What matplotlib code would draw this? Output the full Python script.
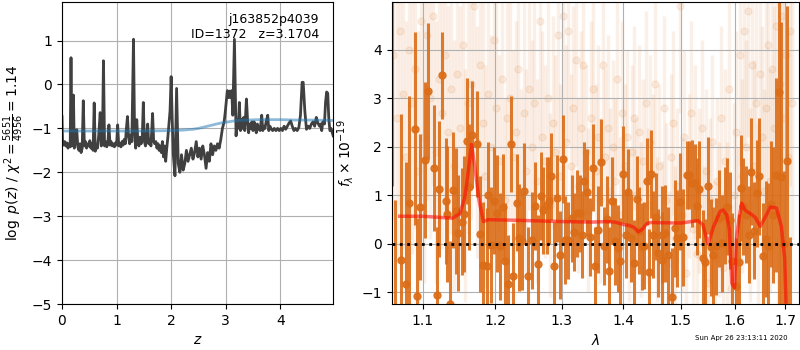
import matplotlib
matplotlib.use('Agg')
import matplotlib.pyplot as plt
from matplotlib.ticker import NullLocator, FixedLocator, FixedFormatter

# --- left panel: log p(z) ---
pz_z = [0.00, 0.01, 0.03, 0.05, 0.07, 0.09, 0.11, 0.13, 0.15, 0.165, 0.18, 0.195, 0.21, 0.225, 0.24,
        0.27, 0.29, 0.31, 0.33, 0.35, 0.37, 0.39, 0.41, 0.43, 0.45, 0.47, 0.49, 0.51, 0.53, 0.55,
        0.57, 0.59, 0.61, 0.63, 0.65, 0.67, 0.70, 0.72, 0.74, 0.76, 0.78, 0.80, 0.82, 0.84, 0.86,
        0.88, 0.90, 0.92, 0.94, 0.96, 0.98, 1.00, 1.02, 1.04, 1.06, 1.08, 1.10, 1.12, 1.14, 1.16,
        1.18, 1.20, 1.22, 1.24, 1.26, 1.28, 1.31, 1.33, 1.35, 1.37, 1.39, 1.41, 1.43, 1.45, 1.47,
        1.49, 1.51, 1.53, 1.55, 1.57, 1.59, 1.61, 1.63, 1.66, 1.68, 1.70, 1.72, 1.74, 1.76, 1.78,
        1.80, 1.82, 1.84, 1.86, 1.88, 1.90, 1.92, 1.94, 1.96, 1.98, 2.00, 2.02, 2.04, 2.07, 2.10,
        2.13, 2.16, 2.19, 2.22, 2.25, 2.28, 2.31, 2.34, 2.37, 2.40, 2.43, 2.46, 2.49, 2.52, 2.55,
        2.58, 2.61, 2.64, 2.67, 2.70, 2.73, 2.76, 2.79, 2.82, 2.85, 2.88, 2.91, 2.94, 2.97, 2.99,
        3.01, 3.03, 3.05, 3.07, 3.09, 3.11, 3.13, 3.16, 3.19, 3.21, 3.23, 3.25, 3.27, 3.29, 3.31,
        3.33, 3.35, 3.38, 3.40, 3.42, 3.44, 3.46, 3.48, 3.50, 3.52, 3.54, 3.56, 3.58, 3.60, 3.63,
        3.66, 3.68, 3.70, 3.72, 3.74, 3.77, 3.79, 3.81, 3.83, 3.86, 3.89, 3.92, 3.95, 3.98, 4.01,
        4.04, 4.07, 4.10, 4.13, 4.16, 4.19, 4.22, 4.25, 4.28, 4.31, 4.34, 4.37, 4.40, 4.42, 4.45,
        4.48, 4.51, 4.54, 4.57, 4.60, 4.63, 4.66, 4.69, 4.72, 4.74, 4.76, 4.78, 4.81, 4.83, 4.85,
        4.87, 4.89, 4.91, 4.93, 4.97]
pz_logp = [-0.73, -1.30, -1.38, -1.30, -1.40, -1.33, -1.45, -1.35, -1.42, 0.61, -1.40, -1.30, -0.24, -1.45, -1.35,
           -1.03, -1.42, -1.50, -1.35, -1.55, -1.45, -0.37, -1.40, -1.30, -1.45, -1.35, -1.40, -1.28, -1.45, -1.35,
           -1.50, -0.42, -1.52, -1.40, -1.45, -1.20, -0.64, -1.40, -1.35, 0.54, -1.40, -1.30, -1.42, -1.35, -0.92,
           -1.38, -1.30, -1.40, -1.35, -1.42, -1.33, -1.38, -0.92, -1.40, -1.35, -1.42, -1.30, -1.38, -1.25, -1.35,
           -1.00, -0.73, -1.20, -1.35, -1.15, -1.30, 1.03, -1.10, -1.45, -0.80, -1.30, -1.40, -1.20, -1.35, -1.25,
           -0.41, -1.30, -1.40, -1.20, -0.90, -1.35, -1.25, -1.40, -0.66, -1.30, -1.35, -1.30, -1.45, -1.35, -1.50,
           -1.40, -1.55, -1.30, -1.65, -1.40, -1.75, -1.45, -1.20, -0.90, -0.60, 0.18, -0.80, -1.60, -2.08, -0.09,
           -1.80, -2.00, -1.60, -1.95, -1.80, -1.50, -1.75, -1.60, -1.45, -1.70, -1.55, -1.30, -1.65, -1.45, -1.70,
           -1.40, -1.60, -1.91, -1.55, -1.75, -1.35, -1.60, -1.40, -1.50, -1.35, -1.45, -1.25, -1.00, -0.86, -0.65,
           -0.40, -0.14, -0.30, -0.15, -0.30, -0.14, -0.70, 1.03, -1.17, -0.80, -1.00, -0.41, -1.05, -0.80, -1.00,
           -0.75, -1.05, -0.33, -0.80, -1.10, -0.90, -1.00, -0.85, -1.05, -0.85, -0.95, -1.10, -0.90, -1.00, -1.05,
           -0.70, -1.05, -0.95, -1.00, -0.85, -0.70, -1.05, -0.95, -1.00, -1.05, -1.00, -1.05, -1.00, -1.05, -1.00,
           -1.05, -0.95, -1.02, -0.95, -0.88, -0.83, -0.95, -1.05, -1.00, -1.05, -0.98, -0.70, 0.05, 0.05, -0.60,
           -1.02, -0.95, -1.00, -0.90, -0.85, -0.95, -0.75, -0.88, -0.95, -0.90, -1.05, -0.85, -0.90, -0.40, -0.17,
           -0.20, -0.80, -1.05, -1.00, -1.17]

prior_z = [0.0, 0.5, 1.0, 1.5, 2.0, 2.2, 2.4, 2.5, 2.6, 2.7, 2.8, 2.9, 3.0, 3.1, 3.2, 3.4, 3.6,
           3.8, 4.0, 4.3, 4.6, 4.97]
prior_logp = [-1.06, -1.06, -1.06, -1.06, -1.05, -1.04, -1.02, -1.00, -0.97, -0.94, -0.91, -0.88,
              -0.86, -0.84, -0.82, -0.81, -0.80, -0.80, -0.80, -0.81, -0.81, -0.82]

# --- right panel: binned spectrum (dark) ---
wave = [1.0603, 1.0636, 1.0717, 1.0781, 1.0820, 1.0899, 1.0929, 1.0964, 1.1034, 1.1074,
        1.1150, 1.1187, 1.1222, 1.1262, 1.1308, 1.1330, 1.1371, 1.1412, 1.1449, 1.1481,
        1.1528, 1.1560, 1.1605, 1.1633, 1.1675, 1.1746, 1.1784, 1.1831, 1.1879, 1.1902,
        1.1945, 1.1988, 1.2031, 1.2071, 1.2110, 1.2148, 1.2191, 1.2227, 1.2265, 1.2315,
        1.2349, 1.2389, 1.2428, 1.2479, 1.2539, 1.2594, 1.2639, 1.2680, 1.2716, 1.2767,
        1.2807, 1.2833, 1.2885, 1.2931, 1.2978, 1.3014, 1.3051, 1.3103, 1.3156, 1.3198,
        1.3246, 1.3288, 1.3325, 1.3357, 1.3406, 1.3454, 1.3492, 1.3535, 1.3584, 1.3633,
        1.3671, 1.3721, 1.3765, 1.3814, 1.3859, 1.3903, 1.3948, 1.3998, 1.4043, 1.4083,
        1.4128, 1.4179, 1.4224, 1.4264, 1.4310, 1.4356, 1.4396, 1.4437, 1.4471, 1.4512,
        1.4558, 1.4599, 1.4658, 1.4670, 1.4717, 1.4776, 1.4847, 1.4895, 1.4937, 1.4985,
        1.5045, 1.5105, 1.5154, 1.5209, 1.5258, 1.5300, 1.5337, 1.5398, 1.5448, 1.5491,
        1.5547, 1.5596, 1.5646, 1.5703, 1.5760, 1.5817, 1.5861, 1.5912, 1.5956, 1.6027,
        1.6078, 1.6117, 1.6169, 1.6220, 1.6272, 1.6325, 1.6384, 1.6443, 1.6483, 1.6549,
        1.6609, 1.6662, 1.6708, 1.6762, 1.6822, 1.6876, 1.6924, 1.6978, 1.7033, 1.7101]
flux = [5.50, -1.40, -0.33, -0.82, 0.85, 2.38, -1.07, 0.76, 1.73, 3.15,
        1.56, -1.05, 1.13, 3.48, 0.88, 0.61, -1.24, 1.11, 0.68, 0.22,
        0.46, 0.61, 2.12, 1.18, 2.25, 2.06, 0.20, -0.43, -0.45, 1.01,
        -0.02, 0.89, 0.63, -0.05, 0.76, -0.35, -0.82, 2.06, -0.66, 0.85,
        0.13, 0.05, 1.09, -0.66, 0.07, 0.78, -0.41, 0.99, 0.69, 0.80,
        0.89, 1.39, -0.45, 0.94, -0.23, 1.75, 0.08, 0.07, 0.53, 0.25,
        0.63, 0.63, 0.19, 1.30, 1.06, 0.14, 1.57, -0.45, 0.29, 1.68,
        -0.04, 0.51, -0.55, 0.89, 0.05, -0.09, -0.36, 1.44, 0.19, 1.06,
        0.12, -0.40, 0.92, 0.27, -0.05, -0.04, 1.29, -0.59, 1.44, 0.19,
        0.56, -0.19, 0.19, -0.34, 0.22, -0.23, -1.09, 0.32, 0.12, 0.87,
        0.14, 1.42, 1.42, 1.25, 1.26, 0.78, 1.13, -0.30, -0.38, 1.20,
        -0.07, -0.23, -0.05, 0.53, 0.01, 0.58, 0.77, 0.49, -0.36, -0.87,
        -0.38, 1.15, 0.78, 0.60, 0.19, 1.49, 0.27, 1.04, 1.39, -0.26,
        0.10, -0.04, 0.82, 0.60, 1.42, 3.14, 1.37, 0.00, 1.70, -1.50]
flux_err = [4.3, 2.3, 3.0, 2.5, 2.2, 2.0, 1.6, 1.5, 1.6, 1.4,
            1.3, 1.4, 1.4, 0.9, 1.3, 1.4, 1.3, 1.2, 1.3, 1.2,
            1.1, 1.2, 1.3, 1.3, 1.1, 1.1, 1.2, 1.3, 1.2, 1.1,
            1.2, 1.1, 1.2, 1.1, 1.1, 1.2, 1.0, 1.0, 1.1, 1.0,
            1.1, 1.0, 1.0, 1.0, 1.0, 0.9, 1.0, 0.9, 0.9, 1.0,
            0.9, 0.9, 0.9, 0.9, 0.9, 0.9, 0.9, 0.8, 0.9, 0.8,
            0.9, 0.8, 0.9, 0.8, 0.9, 0.8, 0.9, 0.8, 0.9, 0.9,
            0.8, 0.9, 0.9, 0.9, 0.9, 0.9, 0.9, 1.0, 0.9, 0.9,
            0.9, 0.9, 0.9, 0.9, 0.9, 0.9, 0.9, 0.9, 0.9, 0.9,
            0.9, 0.9, 1.0, 1.0, 1.0, 1.0, 1.0, 1.0, 1.0, 1.0,
            1.0, 0.7, 0.7, 0.9, 0.8, 1.0, 1.0, 1.0, 0.9, 1.0,
            1.0, 1.0, 1.0, 1.0, 1.0, 1.0, 1.0, 1.0, 1.0, 1.0,
            1.0, 1.1, 1.0, 1.0, 1.0, 1.1, 1.0, 1.1, 1.2, 1.1,
            1.2, 1.3, 1.3, 1.4, 2.0, 4.4, 3.2, 1.5, 3.2, 1.65]

# --- right panel: unbinned spectrum (light) ---
wave_raw = [1.062, 1.066, 1.070, 1.074, 1.078, 1.082, 1.086, 1.090, 1.094, 1.098,
            1.102, 1.106, 1.110, 1.114, 1.118, 1.122, 1.126, 1.130, 1.134, 1.138,
            1.142, 1.146, 1.150, 1.154, 1.158, 1.162, 1.166, 1.170, 1.174, 1.178,
            1.182, 1.186, 1.190, 1.194, 1.198, 1.202, 1.206, 1.210, 1.214, 1.218,
            1.222, 1.226, 1.230, 1.234, 1.238, 1.242, 1.246, 1.250, 1.254, 1.258,
            1.262, 1.266, 1.270, 1.274, 1.278, 1.282, 1.286, 1.290, 1.294, 1.298,
            1.302, 1.306, 1.310, 1.314, 1.318, 1.322, 1.326, 1.330, 1.334, 1.338,
            1.342, 1.346, 1.350, 1.354, 1.358, 1.362, 1.366, 1.370, 1.374, 1.378,
            1.382, 1.386, 1.390, 1.394, 1.398, 1.402, 1.406, 1.410, 1.414, 1.418,
            1.422, 1.426, 1.430, 1.434, 1.438, 1.442, 1.446, 1.450, 1.454, 1.458,
            1.462, 1.466, 1.470, 1.474, 1.478, 1.482, 1.486, 1.490, 1.494, 1.498,
            1.502, 1.506, 1.510, 1.514, 1.518, 1.522, 1.526, 1.530, 1.534, 1.538,
            1.542, 1.546, 1.550, 1.554, 1.558, 1.562, 1.566, 1.570, 1.574, 1.578,
            1.582, 1.586, 1.590, 1.594, 1.598, 1.602, 1.606, 1.610, 1.614, 1.618,
            1.622, 1.626, 1.630, 1.634, 1.638, 1.642, 1.646, 1.650, 1.654, 1.658,
            1.662, 1.666, 1.670, 1.674, 1.678, 1.682, 1.686, 1.690, 1.694, 1.698,
            1.702, 1.706, 1.710, 1.714]
flux_raw = [3.9, 2.6, 4.4, 3.1, 1.8, 4.0, 2.9, 3.6, 1.5, 4.6,
            2.2, 4.3, 3.0, 4.7, 1.9, 3.4, 2.7, 3.9, 2.3, 3.2,
            1.6, 3.5, 2.4, 4.1, 1.2, 2.9, 3.3, 4.9, 2.1, 3.7,
            2.5, 1.4, 3.1, 2.0, 4.2, 2.8, 1.7, 3.4, 0.9, 2.6,
            3.0, 1.8, 2.3, 3.6, 1.1, 2.7, 1.5, 3.2, 2.0, 2.9,
            1.3, 4.6, 2.2, 1.7, 3.0, 0.8, 2.5, 1.9, 4.3, 1.4,
            4.7, 2.1, 4.4, 1.6, 2.8, 3.8, 1.2, 2.4, 3.7, 1.9,
            0.7, 2.6, 3.2, 1.5, 2.2, 0.9, 3.7, 1.8, 2.4, 1.1,
            2.0, 1.3, 3.4, 0.6, 2.7, 1.6, 2.2, 0.4, 1.9, 2.6,
            1.0, 2.3, 0.5, 1.7, 2.9, 0.8, 2.1, 1.4, 3.3, 0.3,
            1.6, 0.2, 2.8, 0.9, -0.4, 1.8, 2.5, 0.1, 1.2, 4.9,
            0.6, 2.2, -0.6, 1.4, 2.7, 0.3, 1.9, -0.2, 1.1, 2.4,
            0.0, 1.5, -0.8, 0.9, 2.1, -0.3, 1.3, 0.5, 2.6, -0.5,
            1.7, 0.4, 3.2, -0.9, 1.0, 2.3, 0.2, 3.9, 1.4, 4.4,
            2.0, 4.8, 0.8, 3.7, 1.6, 2.9, 0.5, 3.5, 2.2, 1.1,
            2.8, 4.1, 1.3, 3.6, 2.4, 4.5, 0.9, 3.3, 4.7, 2.6,
            3.9, 1.8, 4.4, 2.9]
flux_raw_err = [3.4, 3.0, 3.6, 3.2, 2.8, 3.5, 3.1, 3.3, 2.9, 3.6,
                3.0, 3.4, 2.9, 3.5, 2.7, 3.1, 2.8, 3.2, 2.6, 3.0,
                2.6, 2.9, 2.5, 3.0, 2.4, 2.7, 2.8, 3.1, 2.4, 2.8,
                2.5, 2.3, 2.6, 2.3, 2.9, 2.5, 2.2, 2.6, 2.1, 2.4,
                2.5, 2.2, 2.3, 2.6, 2.1, 2.4, 2.1, 2.5, 2.2, 2.4,
                2.1, 2.7, 2.2, 2.0, 2.3, 1.9, 2.2, 2.0, 2.5, 1.9,
                2.4, 2.0, 2.3, 1.9, 2.1, 2.2, 1.8, 2.0, 2.2, 1.8,
                1.7, 2.0, 2.1, 1.8, 1.9, 1.7, 2.1, 1.8, 1.9, 1.7,
                1.8, 1.7, 2.0, 1.6, 1.9, 1.7, 1.8, 1.6, 1.8, 1.9,
                1.6, 1.8, 1.6, 1.7, 1.9, 1.6, 1.8, 1.7, 1.9, 1.5,
                1.7, 1.5, 1.9, 1.6, 1.5, 1.7, 1.9, 1.5, 1.6, 2.2,
                1.6, 1.8, 1.5, 1.7, 1.9, 1.6, 1.8, 1.5, 1.7, 1.8,
                1.6, 1.7, 1.5, 1.7, 1.8, 1.6, 1.7, 1.6, 1.9, 1.6,
                1.9, 1.7, 2.1, 1.7, 1.9, 2.1, 1.8, 2.3, 2.0, 2.4,
                2.2, 2.6, 2.0, 2.4, 2.2, 2.5, 2.0, 2.5, 2.3, 2.1,
                2.5, 2.8, 2.3, 2.7, 2.5, 2.9, 2.4, 2.8, 3.0, 2.7,
                3.0, 2.6, 3.2, 2.8]

# --- right panel: best-fit model ---
model_wave = [1.070, 1.100, 1.140, 1.150, 1.157, 1.162, 1.1665, 1.171, 1.177, 1.1833, 1.190,
              1.250, 1.300, 1.350, 1.370, 1.386, 1.400, 1.410, 1.418, 1.4253, 1.432, 1.440,
              1.446, 1.500, 1.531, 1.540, 1.550, 1.560, 1.5724, 1.578, 1.585, 1.590, 1.5945,
              1.600, 1.6035, 1.609, 1.6137, 1.620, 1.630, 1.640, 1.6502, 1.660, 1.6705, 1.6826,
              1.6926, 1.6993, 1.702]
model_flux = [0.57, 0.57, 0.53, 0.62, 0.95, 1.50, 2.05, 1.60, 0.90, 0.46, 0.50,
              0.48, 0.46, 0.45, 0.46, 0.45, 0.40, 0.38, 0.34, 0.25, 0.30, 0.42,
              0.44, 0.43, 0.48, 0.40, 0.00, 0.35, 0.67, 0.70, 0.60, 0.30, -0.81,
              -0.90, 0.10, 0.55, 0.84, 0.70, 0.63, 0.55, 0.36, 0.55, 0.76, 0.74,
              0.36, -0.30, -1.20]

orange = '#db6d18'

fig = plt.figure(figsize=(8, 3.5), dpi=100)
ax1 = fig.add_axes([0.0775, 0.1314, 0.339, 0.863])
ax2 = fig.add_axes([0.4896, 0.1314, 0.5095, 0.863])

ax1.plot(pz_z, pz_logp, color='0.25', lw=2)
ax1.plot(prior_z, prior_logp, color='tab:blue', alpha=0.5, lw=2)
ax1.set_xlim(0, 4.97)
ax1.set_ylim(-5, 1.88)
ax1.set_xticks([0, 1, 2, 3, 4])
ax1.set_yticks([-5, -4, -3, -2, -1, 0, 1])
ax1.grid(True)
ax1.set_xlabel('$z$')
ax1.set_ylabel(r'$\log\ p(z)$ / $\chi^2=\frac{5651}{4956}=1.14$')
ax1.text(0.948, 0.965, 'j163852p4039\nID=1372   z=3.1704', ha='right', va='top',
         transform=ax1.transAxes, fontsize=9)

ax2.errorbar(wave_raw, flux_raw, yerr=flux_raw_err, fmt='o', color=orange, alpha=0.1,
             markersize=5, elinewidth=2.5, linestyle='None', zorder=1)
ax2.errorbar(wave, flux, yerr=flux_err, fmt='o', color=orange, alpha=0.9,
             markersize=5, elinewidth=2.2, linestyle='None', zorder=2)
ax2.plot(model_wave, model_flux, color='red', alpha=0.55, lw=2.5, zorder=3)
ax2.axhline(0, color='k', linestyle=':', lw=2, zorder=4)
ax2.set_xscale('log')
ax2.set_xlim(1.0598, 1.7294)
ax2.set_ylim(-1.24, 4.99)
ax2.xaxis.set_major_locator(FixedLocator([1.1, 1.2, 1.3, 1.4, 1.5, 1.6, 1.7]))
ax2.xaxis.set_major_formatter(FixedFormatter(['1.1', '1.2', '1.3', '1.4', '1.5', '1.6', '1.7']))
ax2.xaxis.set_minor_locator(NullLocator())
ax2.set_yticks([-1, 0, 1, 2, 3, 4])
ax2.grid(True)
ax2.set_xlabel(r'$\lambda$')
ax2.set_ylabel(r'$f_\lambda\times10^{-19}$')

fig.text(0.985, 0.025, 'Sun Apr 26 23:13:11 2020', ha='right', va='bottom', fontsize=5)

fig.savefig('out.png', dpi=100)
